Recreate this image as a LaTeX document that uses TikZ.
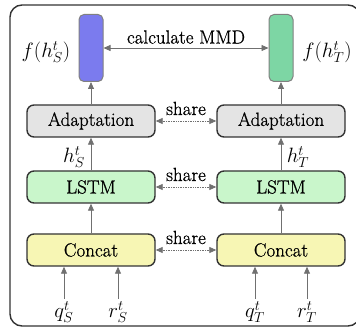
\documentclass[tikz,border=0pt]{standalone}
\usepackage{fontspec}
\setmainfont{Latin Modern Roman}[UprightFeatures={FakeBold=0.8}]
\usetikzlibrary{arrows.meta,calc}

\definecolor{barblue}{HTML}{7B7BEE}
\definecolor{bargreen}{HTML}{7DD6A4}
\definecolor{adaptfill}{HTML}{E4E4E4}
\definecolor{lstmfill}{HTML}{C9F6CB}
\definecolor{concatfill}{HTML}{F7F6B4}
\definecolor{edge}{HTML}{333333}

\tikzset{
  tip/.style={-{Triangle[length=7pt,width=6pt]}},
  flow/.style={tip, draw=edge!70, line width=0.8pt},
  sharelink/.style={{Triangle[length=7pt,width=6pt]}-{Triangle[length=7pt,width=6pt]}, draw=edge!70, line width=0.7pt, densely dotted},
  block/.style={draw=edge, line width=1.4pt, rounded corners=7pt, minimum width=128pt, minimum height=32pt, inner sep=0pt, font=\fontsize{19}{21}\selectfont},
  featbar/.style={draw=gray, line width=1pt, rounded corners=5pt, minimum width=24pt, minimum height=67pt, inner sep=0pt},
  lbl/.style={font=\fontsize{19}{21}\selectfont, inner sep=0pt},
  mlbl/.style={font=\fontsize{20}{22}\selectfont, inner sep=0pt},
}

\begin{document}
\begin{tikzpicture}[x=1pt, y=-1pt]
  \useasboundingbox (0,0) rectangle (356,328);

  % outer frame
  \draw[edge, line width=1.4pt, rounded corners=12pt] (10,5) rectangle (360,326);

  % feature bars
  \node[featbar, fill=barblue]  (fS) at (91,48)  {};
  \node[featbar, fill=bargreen] (fT) at (281,48) {};
  \node[mlbl] (fSl) at (46,52)  {$f(h_S^t)$};
  \node[mlbl] (fTl) at (327,52) {$f(h_T^t)$};

  % source column
  \node[block, fill=adaptfill]  (aS) at (91,121) {Adaptation};
  \node[block, fill=lstmfill]   (lS) at (91,187) {LSTM};
  \node[block, fill=concatfill] (cS) at (91,250) {Concat};

  % target column
  \node[block, fill=adaptfill]  (aT) at (281,121) {Adaptation};
  \node[block, fill=lstmfill]   (lT) at (281,187) {LSTM};
  \node[block, fill=concatfill] (cT) at (281,250) {Concat};

  % MMD between the two features
  \draw[{Triangle[length=7pt,width=6pt]}-{Triangle[length=7pt,width=6pt]}, draw=edge!70, line width=0.8pt] (fS.east) -- (fT.west);
  \node[lbl] (mmd) at (186,37) {calculate MMD};

  % vertical flow
  \draw[flow] (aS.north) -- (fS.south);
  \draw[flow] (aT.north) -- (fT.south);
  \draw[flow] (lS.north) -- (aS.south);
  \draw[flow] (lT.north) -- (aT.south);
  \draw[flow] (cS.north) -- (lS.south);
  \draw[flow] (cT.north) -- (lT.south);
  \node[mlbl] (hS) at (74,157) {$h_S^t$};
  \node[mlbl] (hT) at (298,157) {$h_T^t$};

  % shared parameters
  \foreach \a/\b/\n in {aS/aT/sa, lS/lT/sl, cS/cT/sc}{
    \draw[sharelink] (\a.east) -- (\b.west);
    \node[lbl, anchor=base] (\n) at ($(\a.east)!0.5!(\b.west) + (0,-6)$) {share};
  }

  % inputs
  \coordinate (qSin) at (64,299);
  \coordinate (rSin) at (118,299);
  \coordinate (qTin) at (255,299);
  \coordinate (rTin) at (307,299);
  \draw[flow] (qSin) -- (qSin |- cS.south);
  \draw[flow] (rSin) -- (rSin |- cS.south);
  \draw[flow] (qTin) -- (qTin |- cT.south);
  \draw[flow] (rTin) -- (rTin |- cT.south);
  \node[mlbl] (qS) at (64,312)  {$q_S^t$};
  \node[mlbl] (rS) at (118,312) {$r_S^t$};
  \node[mlbl] (qT) at (255,312) {$q_T^t$};
  \node[mlbl] (rT) at (307,312) {$r_T^t$};
\end{tikzpicture}
\end{document}
